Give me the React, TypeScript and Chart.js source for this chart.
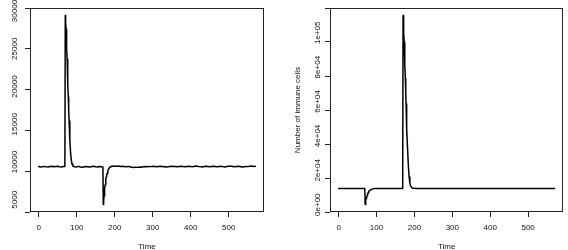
import React, { useEffect, useRef } from "react";
import { Chart, registerables } from "chart.js";

Chart.register(...registerables);

const FONT = "'Liberation Sans', Arial, Helvetica, sans-serif";

// Time points (shared by both panels)
const time = [
  0, 5, 10, 15, 20, 25, 30, 35, 40, 45, 50, 55, 60, 65,
  69, 70, 71, 72, 73, 74, 75, 76, 77, 78, 79, 80, 82, 84, 86, 88, 90,
  95, 100, 105, 110, 115, 120, 125, 130, 135, 140, 145, 150, 155, 160, 165,
  169, 170, 171, 172, 173, 174, 175, 176, 177, 178, 179, 180, 182, 184, 186, 188, 190, 193, 196, 200,
  205, 210, 215, 220, 225, 230, 235, 240, 245, 250,
  255, 260, 265, 270, 275, 280, 285, 290, 295, 300,
  305, 310, 315, 320, 325, 330, 335, 340, 345, 350,
  355, 360, 365, 370, 375, 380, 385, 390, 395, 400,
  405, 410, 415, 420, 425, 430, 435, 440, 445, 450,
  455, 460, 465, 470, 475, 480, 485, 490, 495, 500,
  505, 510, 515, 520, 525, 530, 535, 540, 545, 550,
  555, 560, 565, 570,
];

// Left panel values
const leftPanelValues = [
  9400, 9350, 9380, 9420, 9360, 9330, 9410, 9450, 9370, 9400, 9430, 9380, 9350, 9410,
  9400, 29400, 28600, 27600, 26400, 25100, 23600, 22000, 20300, 18600, 16900, 15400, 12900, 11200, 10200, 9700, 9480,
  9350, 9380, 9420, 9340, 9300, 9360, 9410, 9380, 9330, 9400, 9440, 9370, 9330, 9400, 9380,
  9350, 4380, 4900, 5500, 6050, 6550, 7000, 7400, 7750, 8050, 8300, 8520, 8850, 9080, 9230, 9330, 9400, 9450, 9470, 9450,
  9430, 9460, 9420, 9450, 9400, 9380, 9420, 9360, 9300, 9280,
  9320, 9290, 9330, 9310, 9360, 9400, 9380, 9420, 9390, 9440,
  9400, 9360, 9410, 9450, 9420, 9380, 9330, 9370, 9410, 9440,
  9400, 9420, 9380, 9410, 9440, 9400, 9370, 9420, 9450, 9410,
  9380, 9430, 9460, 9420, 9390, 9350, 9400, 9440, 9410, 9380,
  9420, 9450, 9400, 9360, 9400, 9430, 9390, 9350, 9400, 9440,
  9460, 9420, 9380, 9410, 9450, 9400, 9340, 9380, 9420, 9390,
  9430, 9470, 9410, 9440,
];

// Right panel values: number of immune cells
const immuneCells = [
  9480, 9480, 9490, 9480, 9470, 9480, 9480, 9490, 9480, 9480, 9470, 9480, 9480, 9480,
  9480, 150, 1500, 2700, 3700, 4600, 5300, 5950, 6500, 7000, 7400, 7750, 8250, 8600, 8850, 9050, 9200,
  9380, 9440, 9470, 9480, 9480, 9480, 9480, 9490, 9480, 9480, 9480, 9470, 9480, 9480, 9480,
  9480, 110000, 105500, 100500, 94500, 88000, 81000, 73500, 66000, 58500, 51000, 44000, 32000, 22500, 16000, 12500, 10800, 9900, 9600, 9500,
  9480, 9490, 9480, 9470, 9480, 9480, 9490, 9480, 9470, 9480,
  9480, 9490, 9480, 9480, 9470, 9480, 9490, 9480, 9480, 9470,
  9480, 9480, 9490, 9480, 9470, 9480, 9480, 9490, 9480, 9480,
  9470, 9480, 9490, 9480, 9480, 9470, 9480, 9490, 9480, 9480,
  9480, 9470, 9480, 9490, 9480, 9480, 9470, 9480, 9490, 9480,
  9480, 9490, 9480, 9470, 9480, 9480, 9490, 9480, 9470, 9480,
  9480, 9490, 9480, 9480, 9470, 9480, 9490, 9480, 9480, 9470,
  9480, 9490, 9480, 9480,
];

const xTickValues = [0, 100, 200, 300, 400, 500];
const xTickLabels = ["0", "100", "200", "300", "400", "500"];
const yTickValuesLeft = [5000, 10000, 15000, 20000, 25000, 30000];
const yTickLabelsLeft = ["5000", "10000", "15000", "20000", "25000", "30000"];
const yTickValuesRight = [0, 20000, 40000, 60000, 80000, 100000];
const yTickLabelsRight = ["0e+00", "2e+04", "4e+04", "6e+04", "8e+04", "1e+05"];

function extended(arr: number[]) {
  const mn = Math.min(...arr);
  const mx = Math.max(...arr);
  const d = (mx - mn) * 0.04;
  return { min: mn - d, max: mx + d };
}

function labelFor(values: number[], labels: string[], v: number) {
  const i = values.findIndex((t) => Math.abs(t - v) < 1e-6);
  return i >= 0 ? labels[i] : "";
}

type PanelProps = {
  values: number[];
  yTickValues: number[];
  yTickLabels: string[];
  yStep: number;
  yTitle: string;
  yWidth: number;
  rightPad: number;
  yLabelX: number;
};

function Panel(props: PanelProps) {
  const ref = useRef<HTMLCanvasElement | null>(null);
  useEffect(() => {
    if (!ref.current) return;
    const xr = extended(time);
    const yr = extended(props.values);
    const framePlugin = {
      id: "rframe",
      afterDraw(chart: any) {
        const ctx = chart.ctx;
        const a = chart.chartArea;
        ctx.save();
        ctx.strokeStyle = "#222";
        ctx.lineWidth = 1;
        const l = Math.round(a.left);
        const t = Math.round(a.top);
        const r = Math.round(a.right);
        const b = Math.round(a.bottom);
        ctx.strokeRect(l + 0.5, t + 0.5, r - l - 1, b - t - 1);
        const ys = chart.scales.y;
        ctx.fillStyle = "#111";
        ctx.font = "8px " + FONT;
        ctx.textAlign = "center";
        ctx.textBaseline = "middle";
        for (let i = 0; i < props.yTickValues.length; i++) {
          const y = ys.getPixelForValue(props.yTickValues[i]);
          ctx.save();
          ctx.translate(props.yLabelX, y);
          ctx.rotate(-Math.PI / 2);
          ctx.fillText(props.yTickLabels[i], 0, 0);
          ctx.restore();
        }
        ctx.restore();
      },
    };
    const chart = new Chart(ref.current, {
      type: "line",
      data: {
        datasets: [
          {
            data: time.map((t, i) => ({ x: t, y: props.values[i] })),
            borderColor: "#000",
            borderWidth: 1.5,
            borderJoinStyle: "round",
            borderCapStyle: "round",
            pointRadius: 0,
            tension: 0,
            fill: false,
          },
        ],
      },
      options: {
        responsive: false,
        animation: false,
        events: [],
        layout: { padding: { left: 0, right: props.rightPad, top: 8, bottom: 0 } },
        plugins: { legend: { display: false }, tooltip: { enabled: false } },
        scales: {
          x: {
            type: "linear",
            min: xr.min,
            max: xr.max,
            afterFit: (s: any) => {
              s.height = 38;
            },
            border: { display: false },
            grid: { drawOnChartArea: false, drawTicks: true, tickLength: 5, color: "#222", lineWidth: 1 },
            ticks: {
              stepSize: 100,
              includeBounds: false,
              maxRotation: 0,
              minRotation: 0,
              padding: 5.9,
              color: "#111",
              font: { family: FONT, size: 8 },
              callback: (v: any) => labelFor(xTickValues, xTickLabels, Number(v)),
            },
            title: {
              display: true,
              text: "Time",
              color: "#111",
              font: { family: FONT, size: 8, lineHeight: 0.9 },
              padding: { top: 0, bottom: 0 },
            },
          },
          y: {
            type: "linear",
            min: yr.min,
            max: yr.max,
            afterFit: (s: any) => {
              s.width = props.yWidth;
            },
            border: { display: false },
            grid: { drawOnChartArea: false, drawTicks: true, tickLength: 5, color: "#222", lineWidth: 1 },
            ticks: {
              stepSize: props.yStep,
              includeBounds: false,
              display: false,
            },
            title: {
              display: props.yTitle !== "",
              text: props.yTitle,
              color: "#111",
              font: { family: FONT, size: 8, lineHeight: 1.2 },
              padding: { top: 8.5, bottom: 0 },
            },
          },
        },
      },
      plugins: [framePlugin],
    });
    return () => chart.destroy();
  }, []);
  return <canvas ref={ref} width={284} height={250} style={{ display: "block" }} />;
}

export default function App() {
  return (
    <div style={{ position: "fixed", left: 0, top: 0, width: 568, height: 250, background: "#fff" }}>
      <div style={{ position: "absolute", left: 0, top: 0, width: 284, height: 250 }}>
        <Panel
          values={leftPanelValues}
          yTickValues={yTickValuesLeft}
          yTickLabels={yTickLabelsLeft}
          yStep={5000}
          yTitle=""
          yWidth={30}
          rightPad={20}
          yLabelX={15}
        />
      </div>
      <div style={{ position: "absolute", left: 284, top: 0, width: 284, height: 250 }}>
        <Panel
          values={immuneCells}
          yTickValues={yTickValuesRight}
          yTickLabels={yTickLabelsRight}
          yStep={20000}
          yTitle="Number of immune cells"
          yWidth={46}
          rightPad={4.7}
          yLabelX={33.5}
        />
      </div>
    </div>
  );
}
